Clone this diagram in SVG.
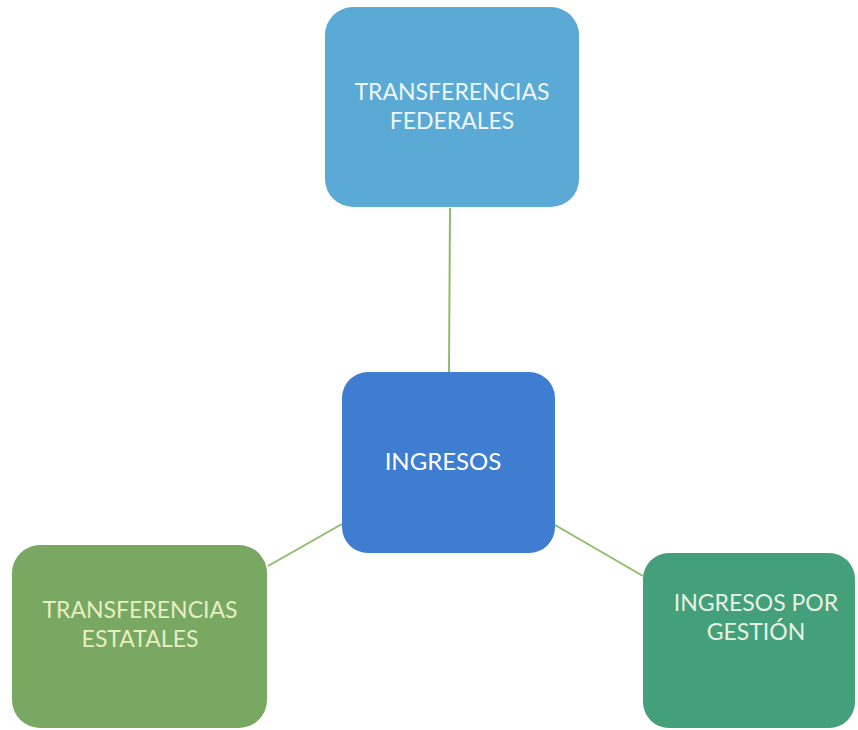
<svg xmlns="http://www.w3.org/2000/svg" width="858" height="730" viewBox="0 0 858 730">
<style>
.lbl{font-family:Lato,"Open Sans","Liberation Sans",sans-serif;font-size:23px;text-anchor:middle}
.conn{stroke:#8cbd6a;stroke-width:2;fill:none}
</style>
<rect width="858" height="730" fill="#ffffff"/>
<g id="connectors">
<line class="conn" x1="450" y1="208" x2="449" y2="372"/>
<line class="conn" x1="268" y1="566" x2="342" y2="524"/>
<line class="conn" x1="555" y1="525" x2="643" y2="576"/>
</g>
<g id="node-federales">
<rect x="325" y="7" width="254" height="200" rx="28" fill="#5aaad5"/>
<text class="lbl" x="452" y="100" fill="#eef6fb">TRANSFERENCIAS</text>
<text class="lbl" x="452" y="129" fill="#eef6fb">FEDERALES</text>
</g>
<g id="node-ingresos">
<rect x="342" y="372" width="213" height="181" rx="26" fill="#3e7dd0"/>
<text class="lbl" x="443" y="470" fill="#ffffff" style="font-size:24px">INGRESOS</text>
</g>
<g id="node-estatales">
<rect x="12" y="545" width="255" height="183" rx="28" fill="#79a862"/>
<text class="lbl" x="140" y="618" fill="#e6eec4">TRANSFERENCIAS</text>
<text class="lbl" x="140" y="647" fill="#e6eec4">ESTATALES</text>
</g>
<g id="node-gestion">
<rect x="643" y="553" width="212" height="175" rx="26" fill="#43a07a"/>
<text class="lbl" x="756" y="611" fill="#e8f2e4">INGRESOS POR</text>
<text class="lbl" x="756" y="640" fill="#e8f2e4">GESTIÓN</text>
</g>
</svg>
